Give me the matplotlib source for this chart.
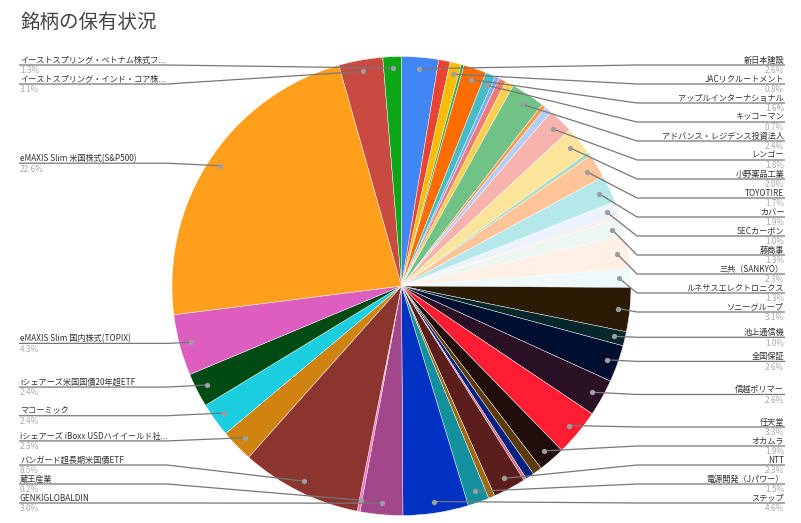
import numpy as np
import matplotlib
matplotlib.use('Agg')
import matplotlib.pyplot as plt

plt.rcParams['font.family'] = ['Noto Sans CJK JP', 'DejaVu Sans']

# 銘柄 (空文字はラベル無しの小さいスライス)
names = [
    '新日本建設', '', 'JACリクルートメント', '', 'アップルインターナショナル',
    'キッコーマン', '', '', '', 'アドバンス・レジデンス投資法人',
    '', '', 'レンゴー', '小野薬品工業', '',
    'TOYOTIRE', 'カバー', 'SECカーボン', '', '藤商事',
    '三共（SANKYO）', 'ルネサスエレクトロニクス', 'ソニーグループ', '池上通信機', '全国保証',
    '信越ポリマー', '任天堂', 'オカムラ', '', '',
    '', 'NTT', '', '電源開発（Jパワー）', 'ステップ',
    'GENKIGLOBALDIN', '蔵王産業', 'バンガード超長期米国債ETF', 'iシェアーズ iBoxx USDハイイールド社...', 'マコーミック',
    'iシェアーズ米国国債20年超ETF', 'eMAXIS Slim 国内株式(TOPIX)', 'eMAXIS Slim 米国株式(S&P500)',
    'イーストスプリング・インド・コア株...', 'イーストスプリング・ベトナム株式フ...',
]

# 保有比率 (%)
shares = [
    2.6, 0.8, 0.8, 0.2, 1.6,
    0.7, 0.3, 0.5, 0.6, 2.4,
    0.3, 0.5, 1.8, 2.0, 0.3,
    1.7, 1.9, 1.0, 0.2, 1.3,
    2.3, 1.3, 3.1, 1.0, 2.6,
    2.6, 3.3, 1.9, 0.65, 0.6,
    0.2, 2.3, 0.45, 1.5, 4.6,
    3.0, 0.2, 8.5, 2.3, 2.4,
    2.4, 4.3, 22.6,
    3.1, 1.3,
]

colors = [
    '#4285F4', '#EA4335', '#FBBC04', '#34A853', '#FF6D01',
    '#46BDC6', '#7BAAF7', '#F07B72', '#FCD04F', '#71C287',
    '#FF994D', '#B3CEFB', '#F7B4AE', '#FDE49B', '#AEDCBA',
    '#FFC599', '#B5E8EB', '#ECF3FE', '#FDECEB', '#EEF7F1',
    '#FFF0E6', '#EDF9FA', '#2B1B05', '#05262A', '#000E30',
    '#2A1024', '#FF1D34', '#200C0A', '#5C3B09', '#00227E',
    '#E0648C', '#5B1E1C', '#A16A12', '#12909C', '#0232C4',
    '#A2478A', '#FF6FC8', '#8C342E', '#D0830F', '#1BCFE0',
    '#004B13', '#DD5EBF', '#FF9F1C',
    '#C84A40', '#0BA716',
]

W, H = 801, 523
cx, cy, R = 401.5, 286, 229.5   # 画素座標 (上が0)

fig = plt.figure(figsize=(W / 100, H / 100), dpi=100)
ax = fig.add_axes([0, 0, 1, 1])

wedges, _ = ax.pie(shares, colors=colors, startangle=90, counterclock=False,
                   center=(cx, H - cy), radius=R,
                   wedgeprops=dict(edgecolor='white', linewidth=0.3))
ax.set_aspect('equal')
ax.set_xlim(0, W)
ax.set_ylim(0, H)
ax.axis('off')

total = sum(shares)
right, left = [], []
for w, name, v in zip(wedges, names, shares):
    if not name:
        continue
    a = np.deg2rad((w.theta1 + w.theta2) / 2)
    dot = (cx + 0.95 * R * np.cos(a), cy - 0.95 * R * np.sin(a))
    want = cy - 0.97 * R * np.sin(a)
    item = dict(name=name, pct=f'{v / total * 100:.1f}%', dot=dot, want=want)
    (right if np.cos(a) > 0 else left).append(item)


def place(items, top=65, bottom=503, gap=19):
    items.sort(key=lambda d: d['want'])
    ys = []
    for it in items:
        y = max(it['want'], top)
        if ys:
            y = max(y, ys[-1] + gap)
        ys.append(y)
    for i in range(len(ys) - 1, -1, -1):
        lim = bottom if i == len(ys) - 1 else ys[i + 1] - gap
        ys[i] = min(ys[i], lim)
    for it, y in zip(items, ys):
        it['y'] = y


place(right)
place(left)

line_c = '#777777'
for side, items in (('r', right), ('l', left)):
    for it in items:
        y = it['y']
        dx, dy = it['dot']
        if side == 'r':
            xs = [dx, 637, 785]
            tx, ha = 784, 'right'
        else:
            xs = [dx, 167, 19]
            tx, ha = 20, 'left'
        ax.plot(xs, [H - dy, H - y, H - y], color=line_c, lw=0.9,
                solid_capstyle='butt', zorder=3)
        ax.plot(dx, H - dy, 'o', ms=3.8, color='#9E9E9E', mec='none', zorder=4)
        ax.text(tx, H - y + 2.4, it['name'], ha=ha, va='baseline',
                fontsize=5.9, color='#333333')
        ax.text(tx, H - y - 1.4, it['pct'], ha=ha, va='top',
                fontsize=5.9, color='#AAAAAA')

ax.text(20, H - 22, '銘柄の保有状況', ha='left', va='center',
        fontsize=14, color='#444444')

fig.savefig('out.png', dpi=100, facecolor='white')
